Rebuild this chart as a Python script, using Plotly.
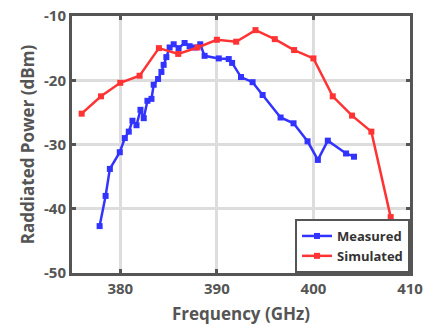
import plotly.graph_objects as go

meas_f = [377.86, 378.48, 378.92, 379.95, 380.47, 380.88, 381.26, 381.68, 382.09, 382.43,
          382.81, 383.23, 383.46, 383.91, 384.26, 384.49, 384.77, 385.11, 385.53, 386.04,
          386.66, 387.18, 387.74, 388.28, 388.73, 390.2, 391.23, 391.58, 392.5, 393.7,
          394.74, 396.6, 397.94, 399.39, 400.46, 401.49, 403.38, 404.2]
meas_p = [-42.7, -38.0, -33.8, -31.2, -29.0, -28.0, -26.3, -27.0, -24.6, -25.9,
          -23.2, -22.9, -20.7, -19.8, -18.7, -17.6, -16.4, -14.9, -14.4, -15.0,
          -14.2, -14.7, -14.9, -14.4, -16.2, -16.6, -16.7, -17.3, -19.5, -20.3,
          -22.3, -25.8, -26.7, -29.5, -32.4, -29.4, -31.4, -31.9]

sim_f = [376, 378, 380, 382, 384, 386, 388, 390, 392, 394, 396, 398, 400, 402, 404, 406, 408]
sim_p = [-25.2, -22.5, -20.4, -19.3, -15.0, -15.9, -14.9, -13.7, -14.0, -12.2,
         -13.6, -15.3, -16.6, -22.5, -25.5, -28.0, -41.3]

x_ticks = [380, 390, 400, 410]
y_ticks = [-50, -40, -30, -20, -10]

FONT = "Open Sans"
GRAY = "#555555"

fig = go.Figure()
fig.add_trace(go.Scatter(x=meas_f, y=meas_p, name="<b>Measured</b>", mode="lines+markers",
                         line=dict(color="#3333ff", width=2.5),
                         marker=dict(symbol="square", size=6, color="#3333ff")))
fig.add_trace(go.Scatter(x=sim_f, y=sim_p, name="<b>Simulated</b>", mode="lines+markers",
                         line=dict(color="#ff3333", width=2.5),
                         marker=dict(symbol="square", size=6, color="#ff3333")))

axis_common = dict(showline=True, mirror="ticks", linecolor=GRAY, linewidth=3,
                   ticks="inside", ticklen=4, tickwidth=3, tickcolor=GRAY,
                   showgrid=True, gridcolor="#dddddd", gridwidth=2.5, zeroline=False,
                   automargin=False,
                   tickfont=dict(family=FONT, size=15, color=GRAY))

fig.update_xaxes(range=[375, 410], tickvals=x_ticks,
                 ticktext=[f"<b>{v}</b>" for v in x_ticks],
                 title=dict(text="<b>Frequency (GHz)</b>", font=dict(family=FONT, size=17, color=GRAY),
                            standoff=12),
                 **axis_common)
fig.update_yaxes(range=[-50, -10], tickvals=y_ticks,
                 ticktext=[f"<b>{v}</b>" for v in y_ticks],
                 title=dict(text="<b>Raddiated Power (dBm)</b>", font=dict(family=FONT, size=17, color=GRAY),
                            standoff=6),
                 **axis_common)

fig.update_layout(
    width=427, height=331,
    margin=dict(l=72, r=17, t=16, b=58),
    paper_bgcolor="white", plot_bgcolor="white",
    showlegend=True,
    legend=dict(x=1, y=0, xanchor="right", yanchor="bottom",
                bgcolor="white", bordercolor=GRAY, borderwidth=2,
                font=dict(family=FONT, size=13, color="#333333"),
                itemwidth=30, tracegroupgap=0),
)

fig.write_html("out.html")
